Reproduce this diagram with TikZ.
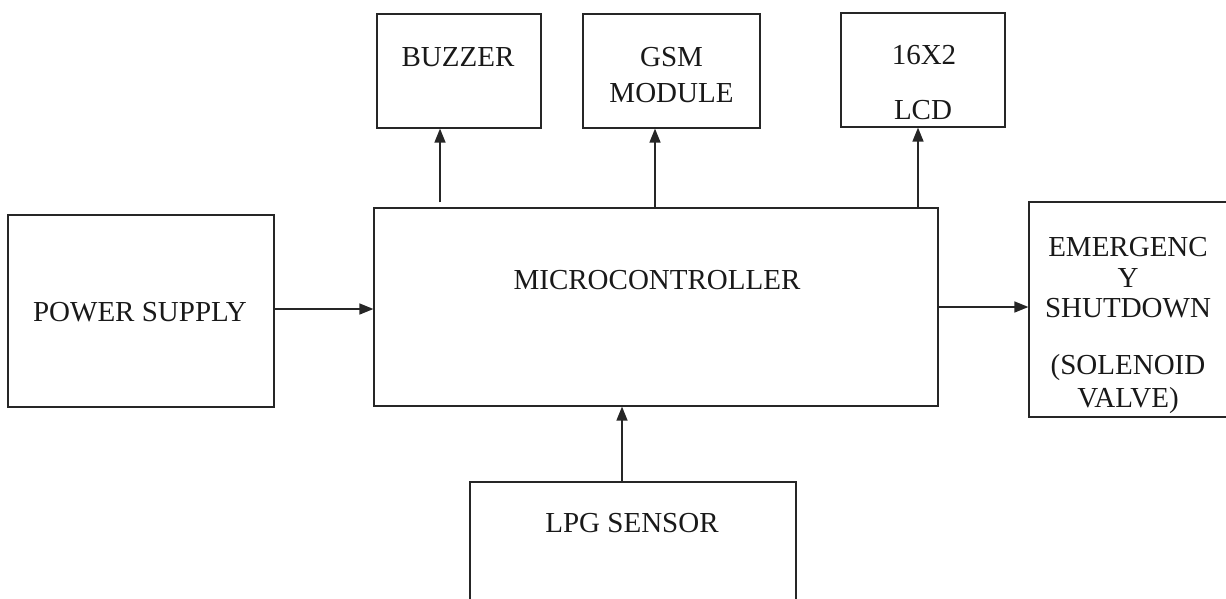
\documentclass[tikz,border=0pt]{standalone}
\usepackage{fontspec}
\setmainfont{Liberation Serif}
\usetikzlibrary{arrows.meta}
\tikzset{
  blk/.style={draw=black!85, line width=1.2pt, inner sep=0pt, minimum width=#1},
  lbl/.style={inner sep=0pt, anchor=base, font=\fontsize{29}{30}\selectfont, text=black!90},
  arr/.style={draw=black!85, line width=1.5pt, -{Triangle[length=14pt,width=11pt]}}
}
\begin{document}
\begin{tikzpicture}[x=1pt,y=-1pt]
\useasboundingbox (0,0) rectangle (1226,598);
% boxes
\node[blk=164pt, minimum height=114pt] (buzzer) at (459,71) {};
\node[blk=177pt, minimum height=114pt] (gsm) at (671.5,71) {};
\node[blk=164pt, minimum height=114pt] (lcd) at (923,70) {};
\node[blk=564pt, minimum height=198pt] (mcu) at (656,307) {};
\node[blk=266pt, minimum height=192pt] (power) at (141,311) {};
\node[blk=202pt, minimum height=215pt] (emg) at (1130,309.5) {};
\node[blk=326pt, minimum height=140pt] (lpg) at (633,552) {};
% texts
\node[lbl] (tbuz) at (458,66.5) {BUZZER};
\node[lbl] (tgsm1) at (671.5,66.5) {GSM};
\node[lbl] (tgsm2) at (671.5,102.5) {MODULE};
\node[lbl] (tlcd1) at (924,64.5) {16X2};
\node[lbl] (tlcd2) at (923,119.5) {LCD};
\node[lbl] (tmcu) at (657,289.5) {MICROCONTROLLER};
\node[lbl] (tpow) at (140,321.5) {POWER SUPPLY};
\node[lbl] (temg1) at (1128,256.5) {EMERGENC};
\node[lbl] (temg2) at (1128,287.5) {Y};
\node[lbl] (temg3) at (1128,317.5) {SHUTDOWN};
\node[lbl] (temg4) at (1128,374.5) {(SOLENOID};
\node[lbl] (temg5) at (1128,407.5) {VALVE)};
\node[lbl] (tlpg) at (632,532.5) {LPG SENSOR};
% connectors
\draw[arr] ([yshift=5pt]mcu.north -| 440,0) -- (buzzer.south -| 440,0);
\draw[arr] (mcu.north -| 655,0) -- (gsm.south -| 655,0);
\draw[arr] (mcu.north -| 918,0) -- (lcd.south -| 918,0);
\draw[arr] (power.east |- 0,309) -- (mcu.west |- 0,309);
\draw[arr] (mcu.east |- 0,307) -- (emg.west |- 0,307);
\draw[arr] (lpg.north -| 622,0) -- (mcu.south -| 622,0);
\end{tikzpicture}
\end{document}
